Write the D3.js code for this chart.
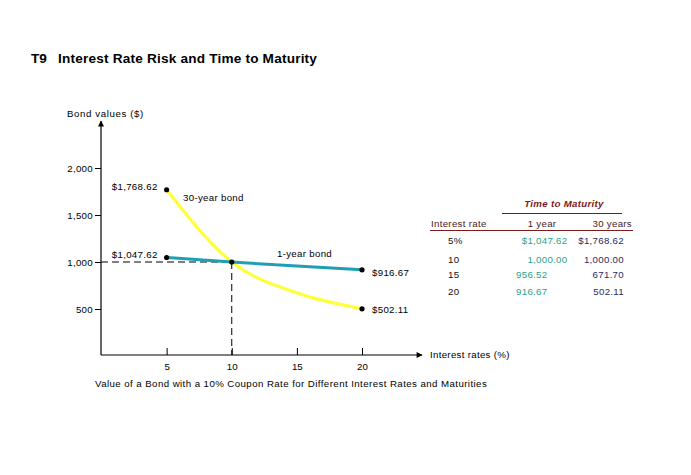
<!DOCTYPE html>
<html><head><meta charset="utf-8">
<script src="https://cdn.jsdelivr.net/npm/d3@7"></script>
<style>
html,body{margin:0;padding:0;background:#fff;}
text{font-family:"Liberation Sans",Arial,sans-serif;}
</style></head>
<body>
<svg id="c" width="691" height="475"></svg>
<script>
// ---- data ----
const rates = [5, 10, 15, 20];
const oneYear = [1047.62, 1000.00, 956.52, 916.67];
const thirtyYear = [1768.62, 1000.00, 671.70, 502.11];
const xTicks = [5, 10, 15, 20];
const yTicks = [500, 1000, 1500, 2000];
const rateLabels = ["5%", "10", "15", "20"];
const oneYearLabels = ["$1,047.62", "1,000.00", "956.52", "916.67"];
const thirtyYearLabels = ["$1,768.62", "1,000.00", "671.70", "502.11"];

const svg = d3.select("#c");
const x = d3.scaleLinear().domain([0, 20]).range([101.5, 362]);
const y = d3.scaleLinear().domain([0, 2000]).range([356, 168]);
const axisY = 355, axisX = 101;
const fs = "9.7px";

// title
svg.append("text").attr("x", 31).attr("y", 63).attr("font-size", "13.6px").attr("font-weight", "bold").text("T9");
svg.append("text").attr("x", 58).attr("y", 63).attr("font-size", "13.6px").attr("font-weight", "bold").attr("letter-spacing", "0.2px").text("Interest Rate Risk and Time to Maturity");

// axis arrows
const defs = svg.append("defs");
defs.append("marker").attr("id", "arr").attr("viewBox", "0 0 10 10").attr("refX", 9).attr("refY", 5)
  .attr("markerWidth", 8).attr("markerHeight", 6).attr("markerUnits", "userSpaceOnUse").attr("orient", "auto")
  .append("path").attr("d", "M0,0L10,5L0,10z").attr("fill", "#000");

svg.append("line").attr("x1", axisX).attr("y1", axisY).attr("x2", axisX).attr("y2", 121)
  .attr("stroke", "#000").attr("stroke-width", 1.2).attr("marker-end", "url(#arr)");
svg.append("line").attr("x1", axisX).attr("y1", axisY).attr("x2", 422).attr("y2", axisY)
  .attr("stroke", "#000").attr("stroke-width", 1.2).attr("marker-end", "url(#arr)");

svg.append("text").attr("x", 67).attr("y", 117).attr("font-size", fs).attr("letter-spacing", "0.6px").text("Bond values ($)");
svg.append("text").attr("x", 430).attr("y", 358).attr("font-size", fs).attr("letter-spacing", "0.3px").text("Interest rates (%)");

// y ticks
const yAxis = d3.axisLeft(y).tickValues(yTicks).tickSize(6).tickFormat(d3.format(","));
const gy = svg.append("g").attr("transform", `translate(${axisX},0)`).call(yAxis);
gy.select(".domain").remove();
gy.selectAll(".tick text").attr("font-size", fs).attr("font-family", "Liberation Sans, Arial, sans-serif").attr("x", -8).attr("letter-spacing", "0.3px");

// x ticks (marks above axis, labels below)
const gx = svg.append("g").attr("transform", `translate(0,${axisY})`)
  .call(d3.axisBottom(x).tickValues(xTicks).tickSize(-7).tickPadding(12));
gx.select(".domain").remove();
gx.selectAll(".tick text").attr("font-size", fs).attr("font-family", "Liberation Sans, Arial, sans-serif").attr("dy", "0.3em");

// dashed reference lines
svg.append("line").attr("x1", axisX).attr("x2", x(10)).attr("y1", y(1000)).attr("y2", y(1000))
  .attr("stroke", "#000").attr("stroke-dasharray", "7,4");
svg.append("line").attr("x1", x(10)).attr("x2", x(10)).attr("y1", y(1000)).attr("y2", axisY)
  .attr("stroke", "#000").attr("stroke-dasharray", "7,4");

// curves
const line = d3.line().x((d, i) => x(rates[i])).y(d => y(d)).curve(d3.curveMonotoneX);
svg.append("path").attr("d", line(thirtyYear)).attr("fill", "none").attr("stroke", "#ffff3a").attr("stroke-width", 3.2);
svg.append("path").attr("d", line(oneYear)).attr("fill", "none").attr("stroke", "#1e9fb3").attr("stroke-width", 3);

// dots
const dots = [[rates[0], thirtyYear[0]], [rates[0], oneYear[0]], [rates[1], oneYear[1]], [rates[3], oneYear[3]], [rates[3], thirtyYear[3]]];
svg.selectAll("circle.d").data(dots).join("circle").attr("class", "d")
  .attr("cx", d => x(d[0])).attr("cy", d => y(d[1])).attr("r", 2.6).attr("fill", "#000");

// point labels
const fmt = d3.format(",.2f");
svg.append("text").attr("x", x(5) - 9).attr("y", y(thirtyYear[0]) + 0.5).attr("text-anchor", "end").attr("font-size", fs).attr("letter-spacing", "0.3px").text("$" + fmt(thirtyYear[0]));
svg.append("text").attr("x", x(5) - 9).attr("y", y(oneYear[0]) + 0.3).attr("text-anchor", "end").attr("font-size", fs).attr("letter-spacing", "0.3px").text("$" + fmt(oneYear[0]));
svg.append("text").attr("x", x(20) + 10).attr("y", y(oneYear[3]) + 6).attr("font-size", fs).attr("letter-spacing", "0.3px").text("$" + fmt(oneYear[3]));
svg.append("text").attr("x", x(20) + 10).attr("y", y(thirtyYear[3]) + 4).attr("font-size", fs).attr("letter-spacing", "0.3px").text("$" + fmt(thirtyYear[3]));
svg.append("text").attr("x", 183).attr("y", 201).attr("font-size", fs).attr("letter-spacing", "0.3px").text("30-year bond");
svg.append("text").attr("x", 277).attr("y", 257).attr("font-size", fs).attr("letter-spacing", "0.3px").text("1-year bond");

// caption
svg.append("text").attr("x", 95).attr("y", 387).attr("font-size", fs).attr("letter-spacing", "0.42px").text("Value of a Bond with a 10% Coupon Rate for Different Interest Rates and Maturities");

// table
const red = "#7a1a1a";
svg.append("text").attr("x", 564).attr("y", 207).attr("text-anchor", "middle").attr("font-size", fs).attr("font-style", "italic").attr("font-weight", "bold").attr("fill", red).attr("letter-spacing", "0.3px").text("Time to Maturity");
svg.append("line").attr("x1", 502).attr("x2", 622).attr("y1", 213.5).attr("y2", 213.5).attr("stroke", red).attr("stroke-width", 1.2);
svg.append("text").attr("x", 431).attr("y", 227).attr("font-size", fs).attr("fill", "#4a1a1a").attr("letter-spacing", "0.3px").text("Interest rate");
svg.append("text").attr("x", 542).attr("y", 227).attr("text-anchor", "middle").attr("font-size", fs).attr("fill", "#4a1a1a").attr("letter-spacing", "0.3px").text("1 year");
svg.append("text").attr("x", 632).attr("y", 227).attr("text-anchor", "end").attr("font-size", fs).attr("fill", "#4a1a1a").attr("letter-spacing", "0.3px").text("30 years");
svg.append("line").attr("x1", 430).attr("x2", 633).attr("y1", 230.5).attr("y2", 230.5).attr("stroke", red).attr("stroke-width", 1.2);

const rowY = [244, 263, 277.5, 294.5];
const oneAnchor = ["end", "end", "start", "start"];
const oneX = [567.5, 567.5, 516, 516];
rates.forEach((r, i) => {
  svg.append("text").attr("x", 448).attr("y", rowY[i]).attr("font-size", fs).attr("fill", "#111").attr("letter-spacing", "0.3px").text(rateLabels[i]);
  svg.append("text").attr("x", oneX[i]).attr("y", rowY[i]).attr("text-anchor", oneAnchor[i]).attr("font-size", fs).attr("fill", "#1fa38c").attr("letter-spacing", "0.3px").text(oneYearLabels[i]);
  svg.append("text").attr("x", 624).attr("y", rowY[i]).attr("text-anchor", "end").attr("font-size", fs).attr("fill", "#2b2b66").attr("letter-spacing", "0.3px").text(thirtyYearLabels[i]);
});
</script>
</body></html>
